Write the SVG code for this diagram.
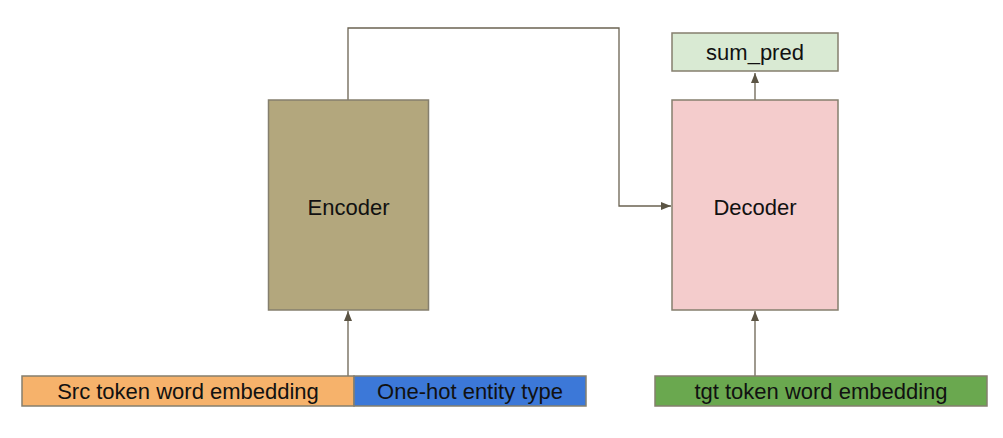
<svg xmlns="http://www.w3.org/2000/svg" width="1003" height="438" viewBox="0 0 1003 438">
<style>
.box{stroke:#857f6e;stroke-width:1.5}
.t{font-family:"Liberation Sans",Arial,sans-serif;font-size:22px;fill:#111;text-anchor:middle;dominant-baseline:central}
.c{fill:none;stroke:#6b6352;stroke-width:1.3}
</style>
<defs>
<marker id="ah" viewBox="0 0 10 10" refX="10" refY="5" markerWidth="10" markerHeight="10" markerUnits="userSpaceOnUse" orient="auto">
<path d="M0,1 L10,5 L0,9 z" fill="#5b5444"/>
</marker>
</defs>
<rect width="1003" height="438" fill="#fff"/>
<g id="connectors">
<path class="c" d="M348,100 V28 H619 V206 H671" marker-end="url(#ah)"/>
<path class="c" d="M348,376 V311" marker-end="url(#ah)"/>
<path class="c" d="M755,376 V311" marker-end="url(#ah)"/>
<path class="c" d="M755,100 V73" marker-end="url(#ah)"/>
</g>
<g id="encoder">
<rect class="box" x="268.5" y="100" width="160" height="210" fill="#b3a77d"/>
<text class="t" x="348.5" y="207">Encoder</text>
</g>
<g id="decoder">
<rect class="box" x="672" y="100" width="166" height="210" fill="#f4cccc"/>
<text class="t" x="755" y="207">Decoder</text>
</g>
<g id="sum_pred">
<rect class="box" x="672" y="33" width="166" height="38" fill="#d9ead3"/>
<text class="t" x="755" y="52">sum_pred</text>
</g>
<g id="src">
<rect class="box" x="22" y="376" width="332" height="30" fill="#f6b26b"/>
<text class="t" x="188" y="391">Src token word embedding</text>
</g>
<g id="onehot">
<rect class="box" x="354" y="376" width="232" height="30" fill="#3c78d8"/>
<text class="t" x="470" y="391">One-hot entity type</text>
</g>
<g id="tgt">
<rect class="box" x="655" y="376" width="332" height="30" fill="#6aa84f"/>
<text class="t" x="821" y="391">tgt token word embedding</text>
</g>
</svg>
